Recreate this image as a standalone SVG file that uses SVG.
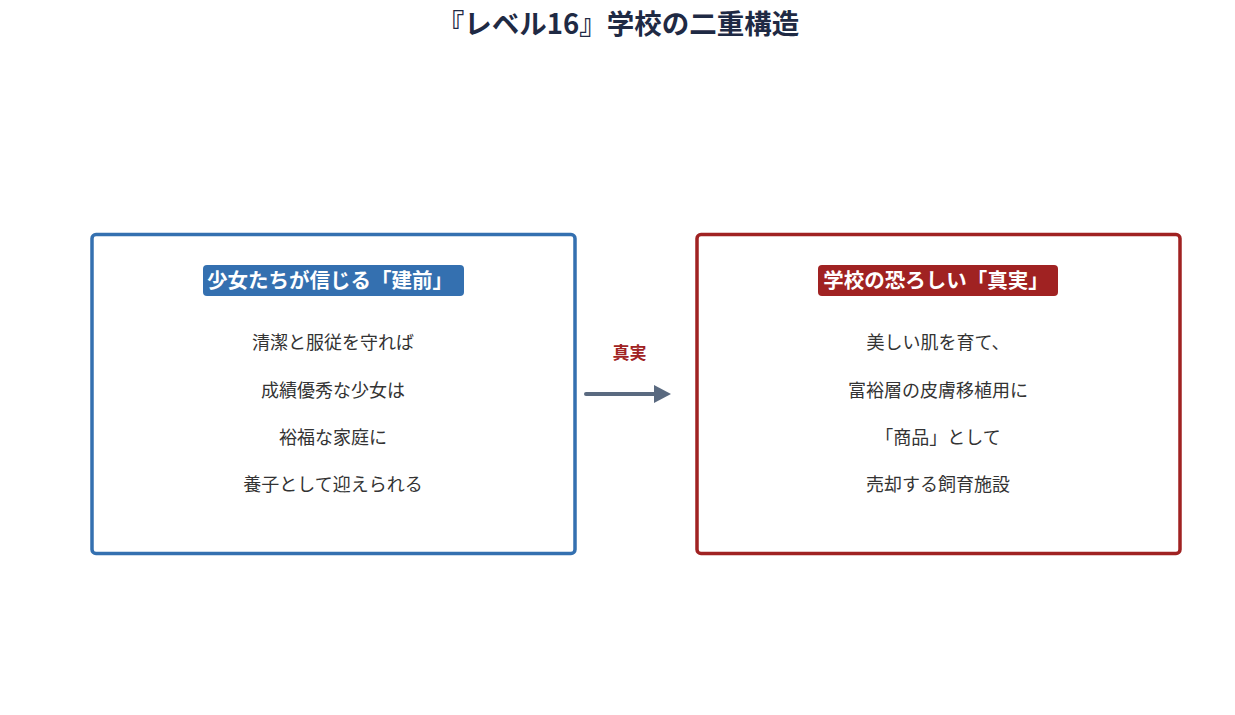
<svg xmlns="http://www.w3.org/2000/svg" width="1235" height="715" viewBox="0 0 1235 715">
<style>
text{font-family:"Noto Sans CJK JP","Noto Sans",sans-serif;text-anchor:middle}
.title{font-size:27.5px;font-weight:bold;fill:#1f2a44}
.hdr{font-size:20.5px;font-weight:bold;fill:#ffffff}
.body{font-size:18px;fill:#333333}
.lbl{font-size:17px;font-weight:bold;fill:#a02222}
</style>
<rect width="1235" height="715" fill="#ffffff"/>
<text class="title" x="618" y="34">『レベル16』学校の二重構造</text>
<g id="node-tatemae">
<rect x="92" y="234.5" width="483" height="319" rx="4" fill="#ffffff" stroke="#3470b0" stroke-width="3.5"/>
<rect x="203" y="265" width="261" height="31" rx="4" fill="#3470b0"/>
<text class="hdr" x="330" y="287.5">少女たちが信じる「建前」</text>
<text class="body" x="333" y="348.5">清潔と服従を守れば</text>
<text class="body" x="333" y="396.5">成績優秀な少女は</text>
<text class="body" x="333" y="443.5">裕福な家庭に</text>
<text class="body" x="333" y="490.5">養子として迎えられる</text>
</g>
<g id="node-shinjitsu">
<rect x="697" y="234.5" width="483" height="319" rx="4" fill="#ffffff" stroke="#a02222" stroke-width="3.5"/>
<rect x="818" y="265" width="240" height="31" rx="4" fill="#a02222"/>
<text class="hdr" x="936" y="287.5">学校の恐ろしい「真実」</text>
<text class="body" x="938" y="348.5">美しい肌を育て、</text>
<text class="body" x="938" y="396.5">富裕層の皮膚移植用に</text>
<text class="body" x="938" y="443.5">「商品」として</text>
<text class="body" x="938" y="490.5">売却する飼育施設</text>
</g>
<g id="connectors">
<line x1="586" y1="394" x2="657" y2="394" stroke="#5a6a80" stroke-width="4" stroke-linecap="round"/>
<path d="M654,385 L671,394 L654,403 Z" fill="#5a6a80"/>
<text class="lbl" x="629.5" y="358.5">真実</text>
</g>
</svg>
